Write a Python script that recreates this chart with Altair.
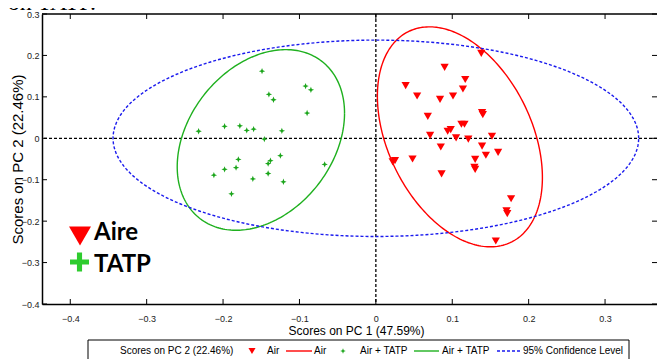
import altair as alt
import numpy as np
import pandas as pd

# ---- data ----
air_pc1 = [0.138, 0.090, 0.039, 0.117, 0.114, 0.054, 0.084, 0.101, 0.139, 0.140, 0.068, 0.112,
           0.116, 0.098, 0.094, 0.071, 0.105, 0.121, 0.152, 0.085, 0.139, 0.144, 0.160, 0.025,
           0.022, 0.048, 0.130, 0.129, 0.130, 0.086, 0.177, 0.171, 0.172, 0.157]
air_pc2 = [0.205, 0.171, 0.127, 0.142, 0.119, 0.102, 0.094, 0.102, 0.062, 0.057, 0.053, 0.034,
           0.034, 0.021, 0.017, 0.007, 0.001, -0.002, 0.005, -0.021, -0.019, -0.041, -0.034, -0.054,
           -0.057, -0.050, -0.051, -0.070, -0.075, -0.086, -0.146, -0.175, -0.182, -0.248]
tatp_pc1 = [-0.149, -0.092, -0.085, -0.140, -0.134, -0.090, -0.232, -0.198, -0.178, -0.169, -0.160,
            -0.123, -0.146, -0.125, -0.180, -0.138, -0.141, -0.198, -0.183, -0.212, -0.161, -0.141,
            -0.121, -0.189, -0.067]
tatp_pc2 = [0.162, 0.126, 0.117, 0.106, 0.093, 0.061, 0.017, 0.029, 0.030, 0.019, 0.022, 0.018,
            -0.002, -0.042, -0.051, -0.054, -0.061, -0.075, -0.071, -0.089, -0.098, -0.085, -0.105,
            -0.134, -0.063]

# confidence ellipses: centre, half extents, correlation
ell_names = ["Air", "Air + TATP", "95% Confidence Level"]
ell_cx = [0.110, -0.1505, 0.0]
ell_cy = [0.0035, -0.004, 0.0]
ell_sx = [0.108, 0.1095, 0.344]
ell_sy = [0.2655, 0.218, 0.237]
ell_r = [-0.37, 0.297, 0.0]

x_ticks = [-0.4, -0.3, -0.2, -0.1, 0.0, 0.1, 0.2, 0.3]
y_ticks = [-0.4, -0.3, -0.2, -0.1, 0.0, 0.1, 0.2, 0.3]

x_title = "Scores on PC 1 (47.59%)"
y_title = "Scores on PC 2 (22.46%)"

# ---- tables ----
air = pd.DataFrame({"x": air_pc1, "y": air_pc2})
tatp = pd.DataFrame({"x": tatp_pc1, "y": tatp_pc2})
t = np.linspace(0, 2 * np.pi, 241)
ell_frames = []
for i, n in enumerate(ell_names):
    r = ell_r[i]
    ell_frames.append(pd.DataFrame({
        "g": n, "t": t,
        "x": ell_cx[i] + ell_sx[i] * np.cos(t),
        "y": ell_cy[i] + ell_sy[i] * (r * np.cos(t) + np.sqrt(1 - r * r) * np.sin(t)),
    }))
xt = pd.DataFrame({"x": x_ticks})
yt = pd.DataFrame({"y": y_ticks})
zero_x = pd.DataFrame({"x": [0.0]})
zero_y = pd.DataFrame({"y": [0.0]})
one = pd.DataFrame({"a": [0]})

W, H = 615, 290
LF = "Liberation Sans"

xs = alt.Scale(domain=[-0.437, 0.368], nice=False, zero=False)
ys = alt.Scale(domain=[-0.4, 0.3], nice=False, zero=False)
xaxis = alt.Axis(values=x_ticks, format=".1~f", ticks=False, grid=False, labelPadding=10,
                 labelFontSize=9, labelFont=LF, labelColor="#222", labelFlush=False,
                 domainColor="black", domainWidth=1.5, title=x_title, titleFont=LF,
                 titleFontSize=12, titleFontWeight="normal", titleX=314, titleY=26,
                 titleBaseline="middle", titleAlign="center")
yaxis = alt.Axis(values=y_ticks, format=".1~f", ticks=False, grid=False, labelPadding=3,
                 labelFontSize=9, labelFont=LF, labelColor="#222", labelFlush=False,
                 domainColor="black", domainWidth=1.5, title=y_title, titleFont=LF,
                 titleFontSize=15, titleFontWeight="normal", titleX=-25, titleY=145,
                 titleAngle=-90, titleBaseline="middle", titleAlign="center")
X = alt.X("x:Q", scale=xs, axis=xaxis)
Y = alt.Y("y:Q", scale=ys, axis=yaxis)

RED = "#ff0000"
GREEN = "#1aa51a"
GREEN_L = "#1fb01f"
BLUE = "#1a1aee"

layers = []
# zero lines
layers.append(alt.Chart(zero_x).mark_rule(color="black", strokeDash=[3, 2], strokeWidth=1.3).encode(x=X))
layers.append(alt.Chart(zero_y).mark_rule(color="black", strokeDash=[3, 2], strokeWidth=1.3).encode(y=Y))
# ellipses
styles = [dict(color=RED, strokeWidth=1.4), dict(color=GREEN_L, strokeWidth=1.4),
          dict(color=BLUE, strokeWidth=1.4, strokeDash=[3, 2])]
for df, st in zip(ell_frames, styles):
    layers.append(alt.Chart(df).mark_line(**st).encode(x=X, y=Y, order="t:Q"))
# points
layers.append(alt.Chart(air).mark_point(shape="triangle-down", filled=True, size=68, color=RED,
                                        opacity=1).encode(x=X, y=Y))
star = "M0,-1L0.28,-0.28L1,0L0.28,0.28L0,1L-0.28,0.28L-1,0L-0.28,-0.28Z"
layers.append(alt.Chart(tatp).mark_point(shape=star, filled=True, size=40, color=GREEN,
                                         opacity=1).encode(x=X, y=Y))
# inward ticks + frame
layers.append(alt.Chart(xt).mark_rule(color="black", strokeWidth=1).encode(x=X, y=alt.value(H), y2=alt.value(H - 5)))
layers.append(alt.Chart(xt).mark_rule(color="black", strokeWidth=1).encode(x=X, y=alt.value(0), y2=alt.value(5)))
layers.append(alt.Chart(yt).mark_rule(color="black", strokeWidth=1).encode(y=Y, x=alt.value(0), x2=alt.value(5)))
layers.append(alt.Chart(yt).mark_rule(color="black", strokeWidth=1).encode(y=Y, x=alt.value(W), x2=alt.value(W - 5)))
layers.append(alt.Chart(one).mark_rule(color="black", strokeWidth=1.5).encode(
    x=alt.value(0), x2=alt.value(W), y=alt.value(0)))


def txt(s, px, py, size=10, font=LF, weight="normal", color="black", baseline="middle"):
    return alt.Chart(one).mark_text(text=s, fontSize=size, font=font, fontWeight=weight, color=color,
                                    align="left", baseline=baseline).encode(x=alt.value(px), y=alt.value(py))


def sym(shape, size, color, px, py):
    return alt.Chart(one).mark_point(shape=shape, size=size, filled=True, color=color, opacity=1).encode(
        x=alt.value(px), y=alt.value(py))


def seg(x1, x2, y1, color, width=1.4, dash=None):
    kw = dict(color=color, strokeWidth=width)
    if dash is not None:
        kw["strokeDash"] = dash
    return alt.Chart(one).mark_rule(**kw).encode(x=alt.value(x1), x2=alt.value(x2), y=alt.value(y1))


# in-plot annotation legend
plus = "M-0.27,-1H0.27V-0.27H1V0.27H0.27V1H-0.27V0.27H-1V-0.27H-0.27Z"
layers.append(sym("triangle-down", 484, RED, 38, 222))
layers.append(txt("Aire", 52, 226, size=24, font="Lato", weight="bold", baseline="alphabetic"))
layers.append(sym(plus, 361, "#2ecc2e", 37.5, 248))
layers.append(txt("TATP", 52, 258, size=24, font="Lato", weight="bold", baseline="alphabetic"))

# document text above (cut off)
layers.append(txt("con TATP.", -45, -4.5, size=24, font="Liberation Serif", baseline="alphabetic"))

# bottom legend box
layers.append(alt.Chart(one).mark_rect(fill="white", stroke="black", strokeWidth=1).encode(
    x=alt.value(46), x2=alt.value(587), y=alt.value(326), y2=alt.value(352)))
LY = 337
layers.append(txt("Scores on PC 2 (22.46%)", 78, LY))
layers.append(sym("triangle-down", 50, RED, 210, LY))
layers.append(txt("Air", 225, LY))
layers.append(seg(244, 270, LY, RED))
layers.append(txt("Air", 272, LY))
layers.append(sym(star, 30, GREEN, 301, LY))
layers.append(txt("Air + TATP", 318, LY))
layers.append(seg(372, 397, LY, GREEN_L))
layers.append(txt("Air + TATP", 400, LY))
layers.append(seg(455, 478, LY, BLUE, dash=[3, 2]))
layers.append(txt("95% Confidence Level", 481, LY))

chart = alt.layer(*layers).properties(
    width=W, height=H,
    autosize=alt.AutoSizeParams(type="none"),
    padding={"left": 34, "top": 6, "right": 0, "bottom": 55},
).configure_view(stroke=None)

chart.save("out.html", embed_options={"renderer": "svg", "actions": False})
